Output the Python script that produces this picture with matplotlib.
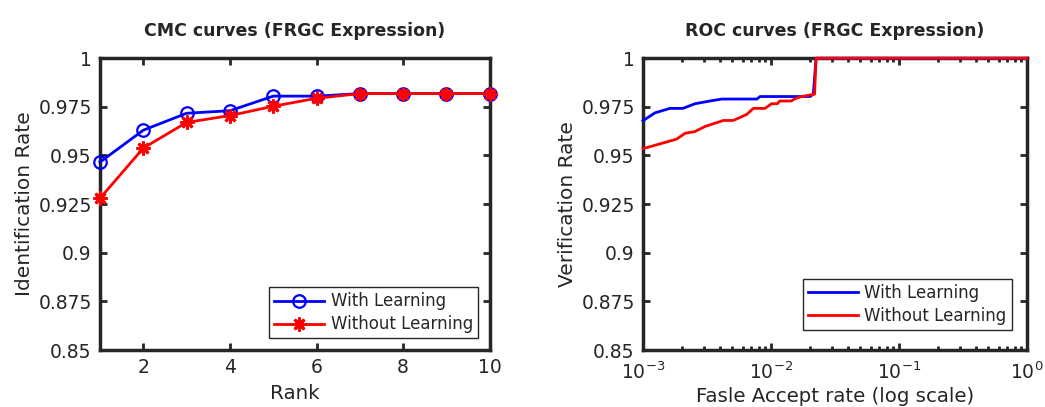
import matplotlib.pyplot as plt
from matplotlib.ticker import LogLocator, NullFormatter, FixedLocator

plt.rcParams['font.family'] = ['DejaVu Sans']
plt.rcParams['mathtext.fontset'] = 'dejavusans'
plt.rcParams['text.color'] = '#262626'
plt.rcParams['axes.labelcolor'] = '#262626'
plt.rcParams['xtick.color'] = '#262626'
plt.rcParams['ytick.color'] = '#262626'

# CMC data
ranks = [1, 2, 3, 4, 5, 6, 7, 8, 9, 10]
cmc_with = [0.9466, 0.963, 0.9717, 0.973, 0.9805, 0.9805, 0.9818, 0.9818, 0.9818, 0.9818]
cmc_without = [0.928, 0.9538, 0.967, 0.9705, 0.9753, 0.9794, 0.9818, 0.9818, 0.9818, 0.9818]

# ROC data (false accept rate, verification rate)
far_with = [0.001, 0.00124, 0.00162, 0.00205, 0.00255, 0.00334, 0.00412, 0.00776, 0.0082,
            0.0202, 0.0214, 0.0225, 0.03, 0.1, 1.0]
vr_with = [0.9679, 0.9719, 0.9742, 0.9742, 0.9766, 0.978, 0.979, 0.979, 0.9803,
           0.9803, 0.9815, 1.0, 1.0, 1.0, 1.0]
far_without = [0.001, 0.00183, 0.00213, 0.00255, 0.00305, 0.00425, 0.00508, 0.00646, 0.00728,
               0.00897, 0.0101, 0.0112, 0.0117, 0.0144, 0.0155, 0.0174, 0.0219, 0.0225, 1.0]
vr_without = [0.9535, 0.9584, 0.9614, 0.9623, 0.9649, 0.968, 0.968, 0.9711, 0.9742,
              0.9742, 0.9766, 0.9766, 0.978, 0.978, 0.9793, 0.9803, 0.9815, 1.0, 1.0]

yticks = [0.85, 0.875, 0.9, 0.925, 0.95, 0.975, 1.0]
ylabels = ['0.85', '0.875', '0.9', '0.925', '0.95', '0.975', '1']

fig = plt.figure(figsize=(10.45, 4.07), dpi=100)
ax1 = fig.add_axes([0.0957, 0.140, 0.373, 0.717])
ax2 = fig.add_axes([0.6153, 0.140, 0.3675, 0.717])

ax1.plot(ranks, cmc_with, color='blue', marker='o', markersize=9, mfc='none', mew=1.6,
         lw=2, label='With Learning', clip_on=False, zorder=4)
ax1.plot(ranks, cmc_without, color='red', marker=(8, 2, 0), markersize=10, mew=2,
         lw=2, label='Without Learning', clip_on=False, zorder=5)
ax1.set_xlim(1, 10)
ax1.set_xticks([2, 4, 6, 8, 10])
ax1.set_xlabel('Rank', fontsize=14.3, labelpad=5)
ax1.set_ylabel('Identification Rate', fontsize=14.5, labelpad=3)
ax1.set_title('CMC curves (FRGC Expression)', fontsize=12.5, fontweight='bold', pad=16)
ax1.legend(loc='lower right', fontsize=12, fancybox=False, edgecolor='#262626',
           framealpha=1, borderaxespad=0.7, handlelength=3, borderpad=0.3,
           labelspacing=0.3, handletextpad=0.4)

ax2.plot(far_with, vr_with, color='blue', lw=2, label='With Learning', clip_on=False, zorder=4)
ax2.plot(far_without, vr_without, color='red', lw=2, label='Without Learning',
         clip_on=False, zorder=5)
ax2.set_xscale('log')
ax2.set_xlim(1e-3, 1)
ax2.xaxis.set_major_locator(FixedLocator([1e-3, 1e-2, 1e-1, 1]))
ax2.xaxis.set_minor_locator(LogLocator(base=10, subs=range(2, 10)))
ax2.xaxis.set_minor_formatter(NullFormatter())
ax2.set_xlabel('Fasle Accept rate (log scale)', fontsize=14.2, labelpad=3)
ax2.set_ylabel('Verification Rate', fontsize=14.5, labelpad=3)
ax2.set_title('ROC curves (FRGC Expression)', fontsize=12.5, fontweight='bold', pad=16)
ax2.legend(loc='lower right', fontsize=12, fancybox=False, edgecolor='#262626',
           framealpha=1, borderaxespad=0.7, handlelength=3, borderpad=0.3,
           labelspacing=0.3, handletextpad=0.4, bbox_to_anchor=(0.99, 0.03))

for ax in (ax1, ax2):
    ax.set_ylim(0.85, 1.0)
    ax.set_yticks(yticks)
    ax.set_yticklabels(ylabels)
    for s in ax.spines.values():
        s.set_linewidth(2.5)
        s.set_color('#262626')
    ax.tick_params(which='both', direction='in', top=True, right=True, labelsize=13.5, width=2)
    ax.tick_params(which='major', length=5, pad=6)
    ax.tick_params(which='minor', length=3)
ax2.tick_params(axis='x', which='major', pad=8)

fig.savefig('out.png', dpi=100)
